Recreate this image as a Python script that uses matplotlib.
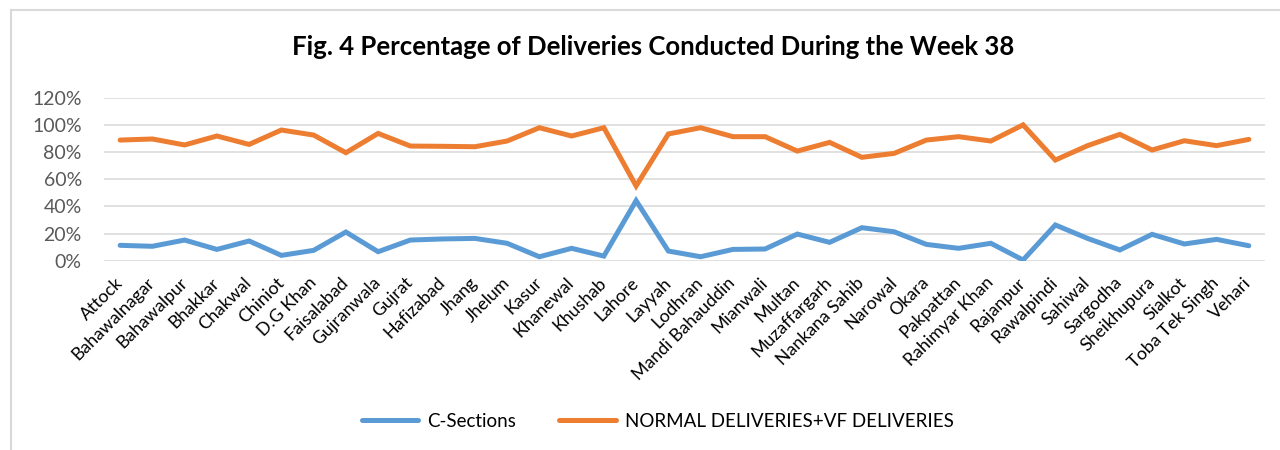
import matplotlib.pyplot as plt
from matplotlib.lines import Line2D
from matplotlib.ticker import PercentFormatter

districts = ['Attock', 'Bahawalnagar', 'Bahawalpur', 'Bhakkar', 'Chakwal', 'Chiniot',
             'D.G Khan', 'Faisalabad', 'Gujranwala', 'Gujrat', 'Hafizabad', 'Jhang',
             'Jhelum', 'Kasur', 'Khanewal', 'Khushab', 'Lahore', 'Layyah', 'Lodhran',
             'Mandi Bahauddin', 'Mianwali', 'Multan', 'Muzaffargarh', 'Nankana Sahib',
             'Narowal', 'Okara', 'Pakpattan', 'Rahimyar Khan', 'Rajanpur', 'Rawalpindi',
             'Sahiwal', 'Sargodha', 'Sheikhupura', 'Sialkot', 'Toba Tek Singh', 'Vehari']

c_sections = [11.3, 10.6, 15.2, 8.3, 14.5, 3.9, 7.6, 21.1, 6.6, 15.2, 16.0, 16.4,
              12.8, 2.9, 9.1, 3.4, 44.2, 7.1, 2.9, 8.3, 8.6, 19.6, 13.5, 24.3,
              21.3, 12.0, 9.1, 12.8, 0.5, 26.3, 16.4, 7.9, 19.4, 12.3, 15.7, 11.0]

normal_vf = [88.8, 89.6, 85.2, 91.8, 85.6, 96.2, 92.5, 79.5, 93.7, 84.4, 84.2, 83.9,
             88.1, 97.9, 91.8, 97.9, 55.0, 93.3, 97.9, 91.3, 91.3, 80.7, 87.1, 76.1,
             79.0, 88.8, 91.3, 88.1, 100.0, 74.1, 84.7, 93.0, 81.5, 88.3, 84.7, 89.3]

plt.rcParams['font.family'] = ['Lato', 'DejaVu Sans']

fig = plt.figure(figsize=(12.8, 4.5), dpi=100)
ax = fig.add_axes([0.08125, 0.4207, 0.907, 0.3622])

x = range(len(districts))
ax.plot(x, c_sections, color='#5B9BD5', lw=3.6, solid_capstyle='round',
        solid_joinstyle='miter', label='C-Sections')
ax.plot(x, normal_vf, color='#ED7D31', lw=3.6, solid_capstyle='round',
        solid_joinstyle='miter', label='NORMAL DELIVERIES+VF DELIVERIES')

ax.set_xlim(-0.5, len(districts) - 0.5)
ax.set_ylim(0, 120)
ax.set_yticks(range(0, 121, 20))
ax.yaxis.set_major_formatter(PercentFormatter(decimals=0))
ax.grid(axis='y', color='#D9D9D9', lw=1.1)
ax.set_axisbelow(True)
for s in ax.spines.values():
    s.set_visible(False)
ax.tick_params(axis='y', length=0, pad=16, labelsize=14, labelcolor='#595959')
ax.tick_params(axis='x', length=0, pad=14)
ax.set_xticks(list(x))
ax.set_xticklabels(districts, rotation=45, ha='right', va='center',
                   rotation_mode='anchor', fontsize=12.8, color='#000000')

fig.text(0.51, 0.895, 'Fig. 4 Percentage of Deliveries Conducted During the Week 38',
         ha='center', va='center', fontsize=18.5, fontweight='bold')

fig.legend(loc='center', bbox_to_anchor=(0.514, 0.064), ncol=2, frameon=False,
           fontsize=13.5, handlelength=3.0, columnspacing=2.3, handletextpad=0.5)

# chart frame (only top and left edges fall inside the picture)
fig.add_artist(Line2D([11 / 1280, 11 / 1280], [0, 1 - 10 / 450], color='#D9D9D9', lw=1.5))
fig.add_artist(Line2D([11 / 1280, 1], [1 - 10 / 450, 1 - 10 / 450], color='#D9D9D9', lw=1.5))

fig.savefig('out.png', dpi=100)
